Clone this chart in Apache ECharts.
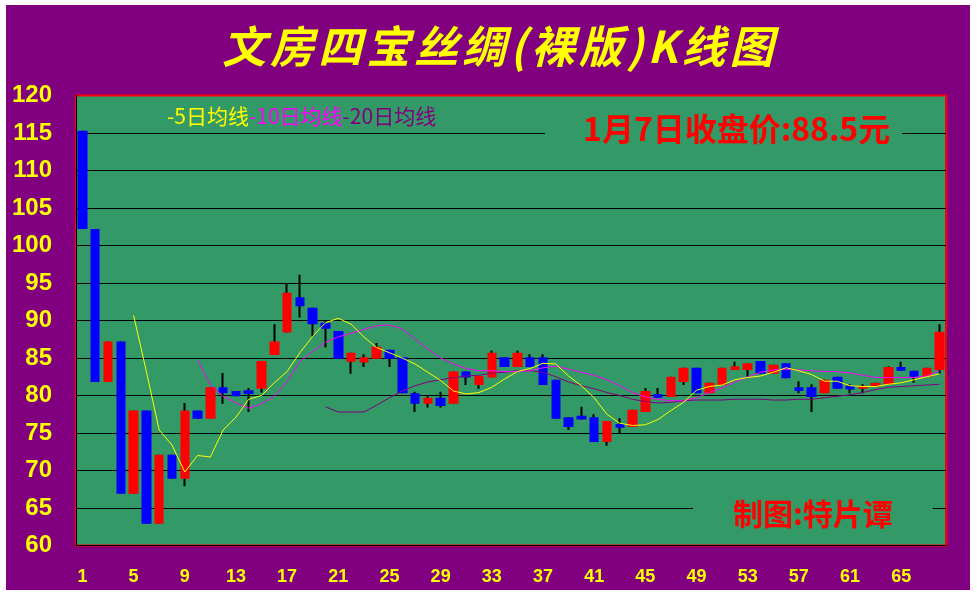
<!DOCTYPE html>
<html><head><meta charset="utf-8">
<script src="https://cdn.jsdelivr.net/npm/echarts@6/dist/echarts.min.js"></script>
<style>
html,body{margin:0;padding:0;background:#fff;}
#bg{position:absolute;left:6px;top:5px;width:964px;height:585px;background:#800080;}
#chart{position:absolute;left:0;top:0;width:977px;height:600px;}
</style></head><body>
<div id="bg"></div><div id="chart"></div>
<script>
// ---- data ----
const days = ['1','2','3','4','5','6','7','8','9','10','11','12','13','14','15','16','17','18','19','20',
'21','22','23','24','25','26','27','28','29','30','31','32','33','34','35','36','37','38','39','40',
'41','42','43','44','45','46','47','48','49','50','51','52','53','54','55','56','57','58','59','60',
'61','62','63','64','65','66','67','68'];
const opens  = [115.3,102.2,81.8,87.2,66.9,78.0,62.9,72.1,68.9,78.0,76.9,81.1,80.6,80.7,80.9,85.4,88.4,93.1,91.7,89.7,
88.6,84.5,84.4,84.9,86.1,85.1,80.3,78.9,79.7,78.9,83.2,81.4,82.4,85.1,83.8,85.1,85.1,82.1,77.1,77.3,
77.1,73.8,76.2,75.8,77.8,80.2,79.8,81.8,83.7,80.3,81.4,83.4,83.4,84.6,82.9,84.3,81.1,81.1,80.3,82.5,
81.3,80.9,81.2,81.5,83.8,83.3,82.5,83.4];
const closes = [102.2,81.8,87.2,66.9,78.0,62.9,72.1,68.9,78.0,76.9,81.1,80.3,79.9,80.2,84.6,87.2,93.7,91.9,89.5,88.9,
84.9,85.7,85.1,86.5,84.9,80.3,78.9,79.7,78.6,83.2,82.4,82.6,85.7,83.8,85.7,83.8,81.4,76.9,75.8,76.8,
73.8,76.6,75.7,78.1,80.6,79.7,82.5,83.7,80.3,81.7,83.7,83.9,84.3,82.9,84.1,82.3,80.6,79.8,82.1,80.9,
80.8,81.3,81.7,83.8,83.3,82.5,83.7,88.5];
const lows   = [102.2,81.8,81.8,66.9,66.9,62.9,62.9,68.9,67.9,76.9,76.9,78.9,79.9,77.8,80.4,85.4,88.4,90.4,87.9,86.4,
84.9,82.9,83.8,84.9,83.8,80.3,77.8,78.4,78.4,78.9,81.4,80.9,82.4,83.8,83.8,83.8,81.4,76.9,75.4,76.8,
73.8,73.3,75.0,75.8,77.8,79.7,79.8,81.4,80.3,80.3,81.4,83.4,82.5,82.9,82.9,82.3,80.3,77.8,80.3,80.9,
80.3,80.3,81.2,81.5,83.3,81.7,82.5,82.9];
const highs  = [115.3,102.2,87.2,87.2,78.0,78.0,72.1,72.1,79.0,78.0,81.1,83.0,80.6,81.0,84.6,89.5,95.0,96.1,91.7,89.9,
88.6,85.7,85.5,87.0,86.1,85.1,80.5,79.9,80.5,83.2,83.2,82.6,86.0,85.1,86.0,85.5,85.5,82.1,77.1,78.5,
77.5,76.6,77.0,78.1,81.0,81.0,82.5,83.7,83.7,81.7,83.7,84.5,84.3,84.6,84.1,84.3,81.9,81.5,82.1,82.5,
81.5,81.5,81.7,83.9,84.5,83.3,83.7,89.5];
const ma5  = [null,null,null,null,90.7,83.2,75.4,73.4,69.8,72.0,71.8,75.4,77.1,79.5,80.0,81.7,83.2,85.7,87.9,89.7,
90.3,89.5,87.8,86.4,85.7,85.0,84.2,83.1,82.0,80.6,80.2,80.4,81.1,82.2,83.2,83.6,84.3,84.2,82.6,81.3,
79.7,77.5,76.3,76.0,76.1,76.8,78.0,79.1,80.7,81.2,81.4,82.1,82.4,82.6,83.1,83.7,83.3,82.8,81.9,81.9,
81.3,81.2,81.2,81.5,81.7,82.1,82.5,82.9];
const ma10 = [null,null,null,null,null,null,null,null,null,84.7,81.4,79.9,79.0,78.3,78.9,79.9,81.9,84.5,85.9,87.1,
87.8,88.3,88.8,89.3,89.4,88.9,87.5,86.2,85.0,84.2,83.6,83.3,83.3,83.2,83.2,83.3,83.7,83.9,83.5,83.1,
82.7,82.1,81.3,80.4,79.8,79.5,79.3,79.3,79.7,80.4,81.0,81.8,82.5,83.1,83.4,83.5,83.4,83.3,83.2,83.2,
83.0,82.7,82.4,82.4,82.4,82.4,82.6,83.3];
const ma20 = [null,null,null,null,null,null,null,null,null,null,null,null,null,null,null,null,null,null,null,78.5,
77.8,77.8,77.8,78.7,79.7,80.6,81.3,81.8,82.1,82.4,82.6,82.7,83.0,83.1,83.3,83.3,83.1,82.5,81.8,81.3,
80.9,80.4,80.0,79.5,79.2,79.0,79.1,79.3,79.4,79.4,79.4,79.5,79.5,79.5,79.4,79.4,79.5,79.5,79.7,79.9,
80.1,80.4,80.8,81.1,81.2,81.3,81.4,81.5];
const yTicks = { min: 60, max: 120, step: 5 };
const mainTitle = '文房四宝丝绸(裸版)K线图';
const legendNames = ['-5日均线', '-10日均线', '-20日均线'];
const priceNote = '1月7日收盘价:88.5元';
const author = '制图:特片谭';

// ---- build ----
const wickData = opens.map((o, i) => [o, closes[i], lows[i], highs[i]]);
const bodyData = opens.map((o, i) => [o, closes[i], Math.min(o, closes[i]), Math.max(o, closes[i])]);
const titleRich = Array.from(mainTitle).map(ch => '{s|' + ch + '}').join('');

const GREEN = '#339966';
const CJK = '"Noto Sans CJK SC"';
const legendStyle = (c) => ({ color: c, fontSize: 21, fontWeight: 'normal', fontFamily: CJK });
const chart = echarts.init(document.getElementById('chart'), null, { renderer: 'canvas' });
chart.setOption({
  animation: false,
  backgroundColor: 'transparent',
  title: [
    {
      text: titleRich, left: 220, top: 24, padding: 0,
      textStyle: { rich: { s: { color: '#FFFF00', fontSize: 44, fontStyle: 'italic', fontWeight: 'bold',
        fontFamily: CJK, padding: [0, 2, 0, 2],
        textShadowColor: '#000', textShadowOffsetX: 2, textShadowOffsetY: 2, textShadowBlur: 0 } } }
    },
    {
      text: '{a|' + legendNames[0] + '}{b|' + legendNames[1] + '}{c|' + legendNames[2] + '}',
      left: 167, top: 106, padding: 0,
      textStyle: { fontSize: 21, fontWeight: 'normal', fontFamily: CJK,
        rich: { a: legendStyle('#FFFF00'), b: legendStyle('#FF00FF'), c: legendStyle('#800080') } }
    },
    {
      text: priceNote, left: 545, top: 110, padding: [3, 12, 3, 38], backgroundColor: GREEN,
      textStyle: { color: '#FF0000', fontSize: 32, fontWeight: 'bold', fontFamily: CJK }
    },
    {
      text: author, left: 693, top: 496, padding: [3, 40, 3, 40], backgroundColor: GREEN,
      textStyle: { color: '#FF0000', fontSize: 30, fontWeight: 'bold', fontFamily: CJK }
    }
  ],
  grid: { left: 76, top: 95.5, width: 870, height: 450, show: true, backgroundColor: GREEN,
    borderColor: '#FF0000', borderWidth: 2, containLabel: false },
  xAxis: {
    type: 'category', data: days, boundaryGap: true,
    axisLine: { show: true, lineStyle: { color: '#000', width: 1 } },
    axisTick: { show: false },
    splitLine: { show: false },
    axisLabel: { interval: 3, color: '#FFFF00', fontSize: 18, fontWeight: 'bold',
      fontFamily: '"Liberation Sans", Arial', margin: 23 }
  },
  yAxis: {
    type: 'value', min: yTicks.min, max: yTicks.max, interval: yTicks.step, scale: false,
    axisLine: { show: true, lineStyle: { color: '#000', width: 1 } },
    axisTick: { show: false },
    splitLine: { show: true, showMinLine: false, showMaxLine: false, lineStyle: { color: '#000', width: 1 } },
    axisLabel: { color: '#FFFF00', fontSize: 24, fontWeight: 'bold', fontFamily: '"Liberation Sans", Arial', margin: 24 }
  },
  series: [
    {
      type: 'candlestick', name: 'wick', data: wickData, barWidth: 1, silent: true,
      itemStyle: { color: '#000', color0: '#000', borderColor: '#000', borderColor0: '#000', borderWidth: 2 }
    },
    {
      type: 'candlestick', name: 'body', data: bodyData, barWidth: 10, silent: true,
      itemStyle: { color: '#FF0000', color0: '#0000FF', borderColor: '#FF0000', borderColor0: '#0000FF', borderWidth: 0 }
    },
    { type: 'line', name: legendNames[2], data: ma20, symbol: 'none', smooth: false,
      lineStyle: { color: '#800080', width: 1 }, itemStyle: { color: '#800080' } },
    { type: 'line', name: legendNames[1], data: ma10, symbol: 'none', smooth: false,
      lineStyle: { color: '#FF00FF', width: 1 }, itemStyle: { color: '#FF00FF' } },
    { type: 'line', name: legendNames[0], data: ma5, symbol: 'none', smooth: false,
      lineStyle: { color: '#FFFF00', width: 1 }, itemStyle: { color: '#FFFF00' } }
  ]
});
</script>
</body></html>
